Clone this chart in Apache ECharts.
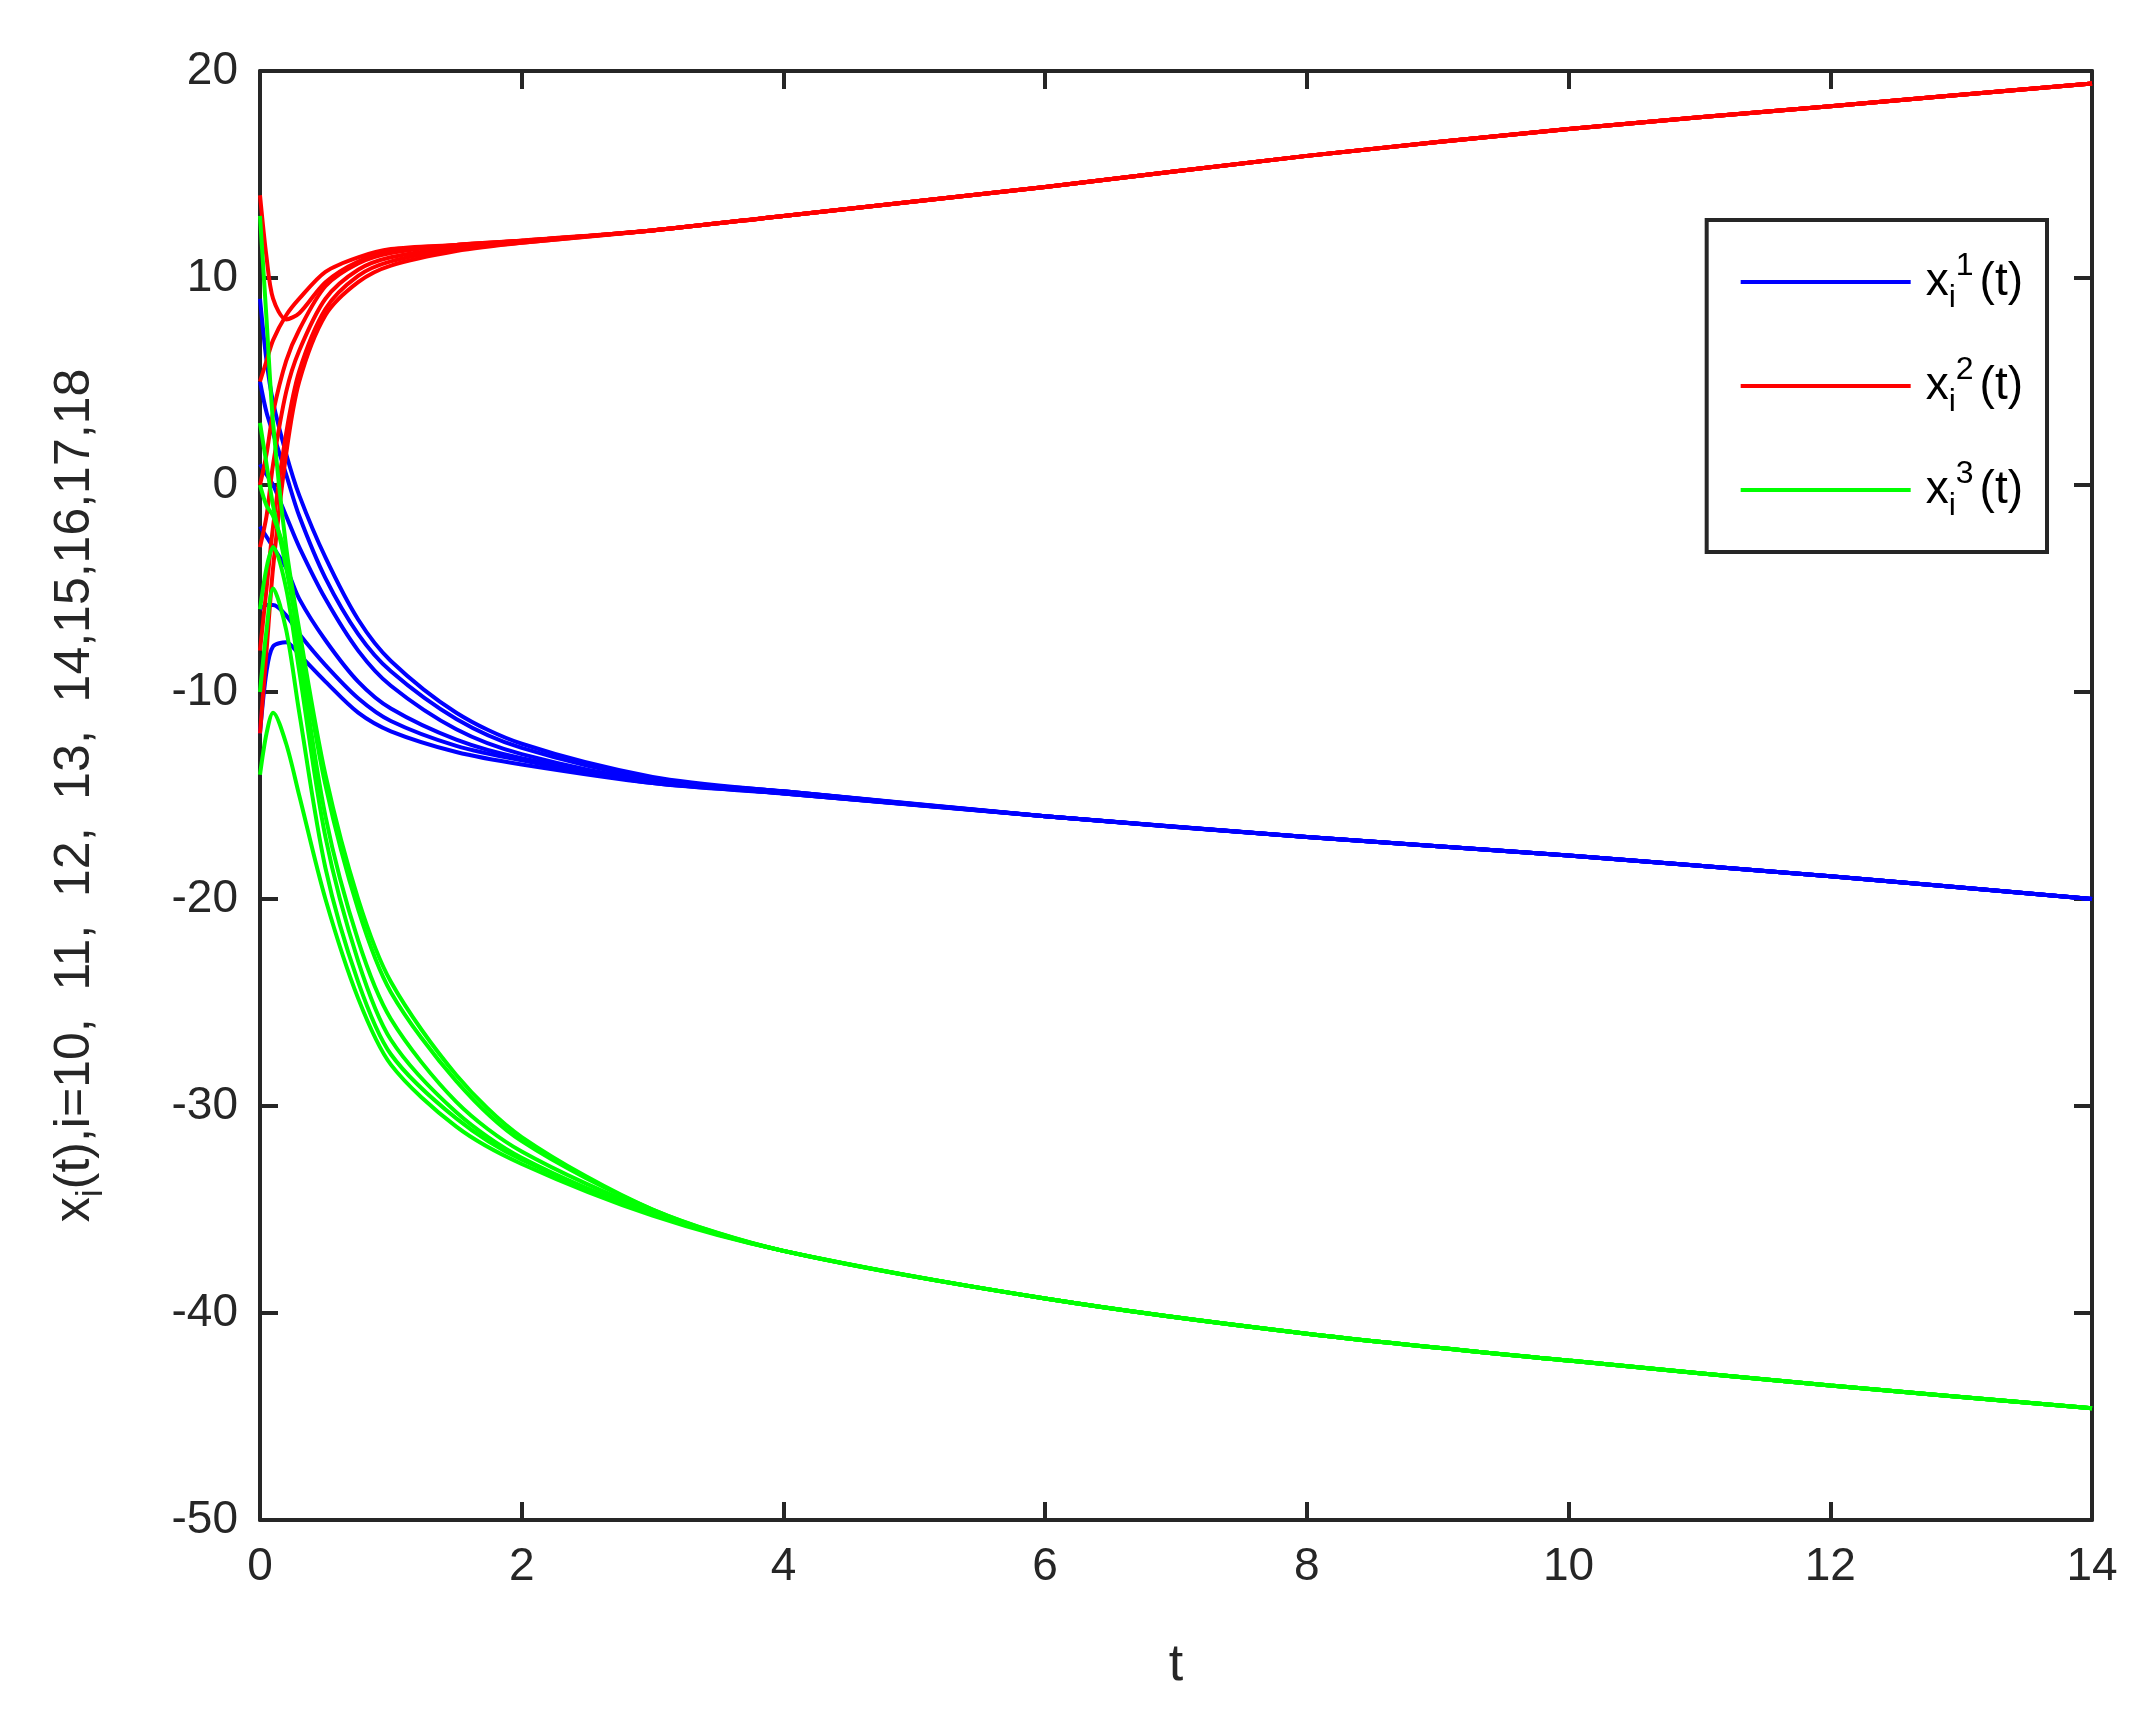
<!DOCTYPE html>
<html>
<head>
<meta charset="utf-8">
<script src="https://cdn.jsdelivr.net/npm/echarts@6/dist/echarts.min.js"></script>
<style>html,body{margin:0;padding:0;background:#fff}#main{width:2146px;height:1726px}</style>
</head>
<body>
<div id="main"></div>
<script>
// sample times
var times = [0, 0.05, 0.1, 0.2, 0.3, 0.5, 0.75, 1, 1.5, 2, 3, 4, 6, 8, 10, 12, 14];

// x_i^1 (blue)
var blue = [
  [9, 6, 4, 1.5, -0.5, -3.5, -6.5, -8.5, -11, -12.5, -14.1, -14.8, -16, -17, -17.9, -18.9, -20],
  [5, 3.5, 2.5, 0.5, -1.5, -4.5, -7.2, -9, -11.3, -12.7, -14.2, -14.8, -16, -17, -17.9, -18.9, -20],
  [1, 0.5, 0, -1.5, -3, -5.5, -8, -9.7, -11.8, -13, -14.3, -14.8, -16, -17, -17.9, -18.9, -20],
  [-2, -2.5, -3, -4, -5.5, -7.5, -9.5, -10.8, -12.3, -13.2, -14.3, -14.9, -16, -17, -17.9, -18.9, -20],
  [-6, -5.8, -5.8, -6.3, -7.2, -8.7, -10.3, -11.4, -12.6, -13.3, -14.4, -14.9, -16, -17, -17.9, -18.9, -20],
  [-12, -9, -7.8, -7.6, -8.2, -9.5, -11, -11.9, -12.9, -13.5, -14.4, -14.9, -16, -17, -17.9, -18.9, -20]
];
// x_i^2 (red)
var red = [
  [14, 11, 9, 8, 8.3, 9.8, 10.8, 11.3, 11.6, 11.8, 12.3, 13, 14.4, 15.9, 17.2, 18.3, 19.4],
  [5, 6, 7, 8.2, 9, 10.3, 11, 11.4, 11.6, 11.8, 12.3, 13, 14.4, 15.9, 17.2, 18.3, 19.4],
  [0, 1.5, 3.5, 6, 7.5, 9.6, 10.7, 11.2, 11.6, 11.8, 12.3, 13, 14.4, 15.9, 17.2, 18.3, 19.4],
  [-3, -1.5, 1, 4.5, 6.5, 9, 10.4, 11, 11.5, 11.8, 12.3, 13, 14.4, 15.9, 17.2, 18.3, 19.4],
  [-8, -5, -2, 2.5, 5.5, 8.5, 10.1, 10.8, 11.4, 11.7, 12.3, 13, 14.4, 15.9, 17.2, 18.3, 19.4],
  [-12, -8, -4, 1.5, 5, 8.2, 9.8, 10.6, 11.3, 11.7, 12.3, 13, 14.4, 15.9, 17.2, 18.3, 19.4]
];
// x_i^3 (green)
var green = [
  [13, 8, 3, -3, -7, -14, -20, -24, -28.5, -31.5, -35, -37, -39.3, -41, -42.3, -43.5, -44.6],
  [3, 1, -1, -4, -7.5, -14.5, -20.5, -24.5, -28.8, -31.7, -35, -37, -39.3, -41, -42.3, -43.5, -44.6],
  [0, -1, -1.5, -3.5, -8, -16, -22, -25.8, -29.8, -32.2, -35.1, -37, -39.3, -41, -42.3, -43.5, -44.6],
  [-6, -4, -3, -5, -9, -17, -23, -26.8, -30.3, -32.5, -35.2, -37, -39.3, -41, -42.3, -43.5, -44.6],
  [-10, -7, -5, -7, -11, -18.5, -24, -27.5, -30.6, -32.6, -35.2, -37, -39.3, -41, -42.3, -43.5, -44.6],
  [-14, -12, -11, -12.5, -15, -20, -24.8, -28, -31, -32.8, -35.3, -37, -39.3, -41, -42.3, -43.5, -44.6]
];

var series = [];
function addGroup(list, name, color) {
  list.forEach(function (vals) {
    series.push({
      name: name, type: 'line', showSymbol: false, smooth: 0.3,
      lineStyle: { color: color, width: 4 }, itemStyle: { color: color },
      data: vals.map(function (v, i) { return [times[i], v]; })
    });
  });
}
addGroup(blue, 'x1', '#0000ff');
addGroup(red, 'x2', '#ff0000');
addGroup(green, 'x3', '#00ff00');

var font = 'Liberation Sans, Arial, sans-serif';
function ax(extra) {
  return Object.assign({
    axisLine: { onZero: false, lineStyle: { color: '#262626', width: 4 } },
    axisTick: { inside: true, length: 18, lineStyle: { color: '#262626', width: 4 } },
    splitLine: { show: false }
  }, extra);
}

var chart = echarts.init(document.getElementById('main'));
chart.setOption({
  backgroundColor: '#fff',
  animation: false,
  grid: { left: 260, right: 54, top: 71, bottom: 206 },
  legend: {
    orient: 'vertical', right: 99, top: 220,
    data: ['x1', 'x2', 'x3'],
    itemWidth: 170, itemHeight: 4, itemGap: 40,
    padding: [30, 24, 30, 34],
    borderColor: '#262626', borderWidth: 4, borderRadius: 0,
    backgroundColor: '#fff',
    icon: 'rect',
    formatter: function (n) {
      return '{x|x}{b|i}{s|' + n.slice(1) + '}{p|(t)}';
    },
    textStyle: {
      fontFamily: font, lineHeight: 64,
      rich: {
        x: { fontSize: 46, color: '#000', fontFamily: font, lineHeight: 64, padding: [0, 0, 0, 10] },
        b: { fontSize: 32, color: '#000', fontFamily: font, lineHeight: 64, verticalAlign: 'bottom' },
        s: { fontSize: 32, color: '#000', fontFamily: font, lineHeight: 64, verticalAlign: 'top', padding: [0, 6, 0, 0] },
        p: { fontSize: 46, color: '#000', fontFamily: font, lineHeight: 64 }
      }
    }
  },
  xAxis: [
    ax({
      type: 'value', min: 0, max: 14, interval: 2,
      name: 't', nameLocation: 'middle', nameGap: 120,
      nameTextStyle: { fontSize: 52, color: '#262626', fontFamily: font },
      axisLabel: { fontSize: 46, color: '#262626', fontFamily: font, margin: 24 }
    }),
    ax({ type: 'value', min: 0, max: 14, interval: 2, position: 'top', axisLabel: { show: false } })
  ],
  yAxis: [
    ax({
      type: 'value', min: -50, max: 20, interval: 10,
      name: '{a|x}{b|i}{a|(t),i=10,  11,  12,  13,  14,15,16,17,18}',
      nameLocation: 'middle', nameGap: 150, nameRotate: 90,
      nameTextStyle: {
        fontFamily: font, color: '#262626',
        rich: {
          a: { fontSize: 50, color: '#262626', fontFamily: font, lineHeight: 70 },
          b: { fontSize: 36, color: '#262626', fontFamily: font, lineHeight: 70, verticalAlign: 'bottom' }
        }
      },
      axisLabel: { fontSize: 46, color: '#262626', fontFamily: font, margin: 22 }
    }),
    ax({ type: 'value', min: -50, max: 20, interval: 10, position: 'right', axisLabel: { show: false } })
  ],
  series: series
});
</script>
</body>
</html>
